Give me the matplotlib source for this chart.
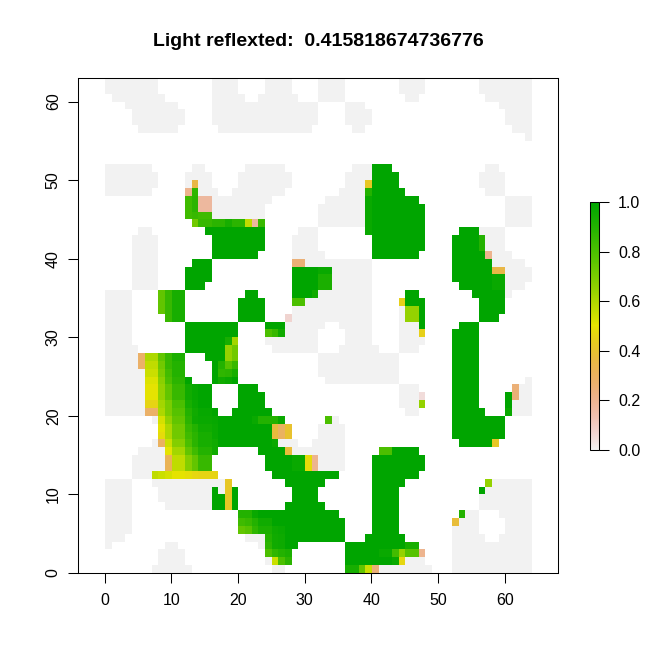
"""Raster of reflected light with an R terrain.colors style legend."""

import colorsys

import numpy as np
import matplotlib
matplotlib.use("Agg")
import matplotlib.pyplot as plt
from matplotlib.colors import ListedColormap

plt.rcParams["font.family"] = ["Liberation Sans", "DejaVu Sans"]

TITLE = "Light reflexted:  0.415818674736776"
N_ROWS = 63
N_COLS = 64
X_TICKS = [0, 10, 20, 30, 40, 50, 60]
Y_TICKS = [0, 10, 20, 30, 40, 50, 60]
BAR_TICKS = [0.0, 0.2, 0.4, 0.6, 0.8, 1.0]

# rows are counted from the top; spans are inclusive column ranges
ZERO_SPANS = {
    0: [(0, 7), (16, 19), (24, 27), (32, 35), (44, 47), (56, 63)],
    1: [(0, 7), (16, 19), (24, 27), (32, 35), (44, 47), (56, 63)],
    2: [(1, 8), (16, 20), (23, 28), (32, 35), (45, 46), (57, 63)],
    3: [(3, 10), (16, 31), (36, 38), (59, 63)],
    4: [(4, 11), (16, 31), (36, 39), (60, 63)],
    5: [(4, 11), (16, 31), (36, 39), (60, 63)],
    6: [(5, 10), (17, 30), (37, 38), (61, 63)],
    7: [(63, 63)],
    11: [(0, 6), (13, 14), (21, 26), (37, 39), (57, 58)],
    12: [(0, 7), (12, 15), (20, 27), (36, 39), (56, 59)],
    13: [(0, 7), (12, 12), (14, 15), (20, 27), (36, 38), (56, 59)],
    14: [(0, 6), (14, 16), (19, 26), (35, 38), (57, 59)],
    15: [(16, 24), (33, 38), (60, 63)],
    16: [(16, 23), (32, 38), (60, 63)],
    17: [(16, 23), (32, 38), (60, 63)],
    18: [(32, 38), (60, 63)],
    19: [(5, 6), (29, 31), (56, 59)],
    20: [(4, 7), (28, 31), (57, 59)],
    21: [(4, 7), (28, 31), (57, 59)],
    22: [(4, 7), (28, 32), (58, 60)],
    23: [(4, 7), (30, 39), (58, 62)],
    24: [(4, 7), (34, 39), (60, 63)],
    25: [(4, 7), (34, 39), (60, 63)],
    26: [(4, 7), (34, 39), (60, 62)],
    27: [(0, 3), (32, 39), (60, 60)],
    28: [(0, 3), (30, 39)],
    29: [(0, 3), (28, 39), (44, 44)],
    30: [(0, 3), (28, 39), (44, 44)],
    31: [(0, 3), (27, 32), (35, 39), (44, 46)],
    32: [(0, 3), (27, 31), (36, 39), (44, 46)],
    33: [(0, 3), (24, 31), (36, 39), (44, 47)],
    34: [(0, 4), (25, 31), (35, 40), (44, 46)],
    35: [(0, 4), (32, 43)],
    36: [(0, 4), (32, 43)],
    37: [(0, 5), (32, 43)],
    38: [(0, 5), (33, 43), (63, 63)],
    39: [(0, 5), (44, 46), (62, 63)],
    40: [(0, 5), (44, 46), (62, 63)],
    41: [(0, 5), (44, 46), (61, 63)],
    42: [(0, 5), (45, 46), (61, 63)],
    43: [(7, 7), (34, 34)],
    44: [(32, 35)],
    45: [(32, 35)],
    46: [(7, 7), (26, 28), (31, 35)],
    47: [(5, 8), (28, 35)],
    48: [(4, 8), (32, 35)],
    49: [(4, 8), (32, 35)],
    50: [(4, 6)],
    51: [(0, 3), (7, 17), (58, 63)],
    52: [(0, 3), (8, 15), (17, 17), (57, 63)],
    53: [(0, 3), (8, 15), (56, 63)],
    54: [(0, 3), (9, 15), (56, 63)],
    55: [(0, 3), (54, 55), (59, 63)],
    56: [(0, 3), (53, 55), (60, 63)],
    57: [(0, 3), (52, 55), (60, 63)],
    58: [(0, 2), (21, 23), (52, 56), (59, 63)],
    59: [(0, 0), (9, 10), (23, 23), (52, 63)],
    60: [(8, 11), (52, 63)],
    61: [(8, 11), (24, 24), (45, 47), (52, 63)],
    62: [(7, 12), (25, 26), (41, 48), (52, 63)],
}

ONE_SPANS = {
    11: [(40, 42)],
    12: [(40, 43)],
    13: [(40, 43)],
    14: [(40, 44)],
    15: [(40, 46)],
    16: [(40, 47)],
    17: [(40, 47)],
    18: [(40, 47)],
    19: [(15, 23), (40, 47), (53, 55)],
    20: [(16, 23), (40, 47), (52, 55)],
    21: [(16, 23), (40, 47), (52, 55)],
    22: [(16, 22), (40, 46), (52, 56)],
    23: [(13, 15), (52, 57)],
    24: [(12, 15), (28, 31), (52, 57)],
    25: [(12, 15), (28, 31), (52, 57)],
    26: [(12, 14), (28, 31), (53, 57)],
    27: [(21, 22), (28, 30), (45, 46), (55, 59)],
    28: [(20, 23), (45, 47), (56, 59)],
    29: [(20, 23), (47, 47), (56, 59)],
    30: [(20, 23), (47, 47), (56, 58)],
    31: [(12, 19), (24, 26), (47, 47), (53, 55)],
    32: [(12, 19), (52, 55)],
    33: [(12, 17), (52, 55)],
    34: [(12, 17), (52, 55)],
    35: [(15, 17), (52, 55)],
    36: [(16, 16), (52, 55)],
    37: [(16, 16), (52, 55)],
    38: [(12, 12), (16, 16), (19, 19), (52, 55)],
    39: [(14, 15), (20, 22), (52, 55)],
    40: [(14, 15), (20, 23), (52, 55), (60, 60)],
    41: [(14, 15), (20, 23), (52, 55), (60, 60)],
    42: [(16, 16), (19, 24), (52, 56)],
    43: [(17, 21), (52, 59)],
    44: [(17, 24), (52, 59)],
    45: [(17, 24), (52, 59)],
    46: [(17, 24), (53, 57)],
    47: [(23, 26), (43, 46)],
    48: [(24, 27), (40, 47)],
    49: [(24, 27), (40, 47)],
    50: [(25, 34), (40, 46)],
    51: [(27, 32), (40, 44)],
    52: [(16, 16), (19, 19), (28, 31), (40, 43), (56, 56)],
    53: [(16, 17), (19, 19), (28, 31), (40, 43)],
    54: [(16, 17), (19, 19), (27, 32), (40, 43)],
    55: [(23, 34), (40, 43)],
    56: [(25, 35), (40, 43)],
    57: [(27, 35), (40, 43)],
    58: [(27, 35), (39, 44)],
    59: [(27, 28), (36, 44)],
    60: [(36, 40)],
    61: [(36, 42)],
}

# cells between 0 and 1, row: {column: value}
PARTIAL = {
    13: {13: .35, 39: .42},
    14: {12: .2, 13: .87, 39: .9},
    15: {12: .83, 13: .88, 14: .17, 15: .17, 39: .97},
    16: {12: .83, 13: .88, 14: .17, 15: .17, 39: .97},
    17: {12: .83, 13: .85, 14: .83, 15: .83, 39: .97},
    18: {13: .72, 14: .85, 15: .85, 16: .88, 17: .88, 18: .93, 19: .88, 20: .88,
         21: .57, 22: .17, 23: .85, 39: .97},
    19: {39: .97},
    20: {56: .9},
    21: {56: .9},
    22: {57: .2},
    23: {28: .25, 29: .25},
    24: {32: .97, 33: .97, 58: .35, 59: .35},
    25: {32: .92, 33: .92, 58: .97, 59: .97},
    26: {32: .92, 33: .92, 58: .97, 59: .97},
    27: {8: .75, 9: .85, 10: .93, 11: .93, 31: .95},
    28: {8: .75, 9: .85, 10: .93, 11: .93, 28: .8, 29: .8, 44: .45},
    29: {8: .75, 9: .85, 10: .93, 11: .93, 45: .65, 46: .65},
    30: {9: .85, 10: .93, 11: .93, 27: .07, 45: .65, 46: .65},
    32: {24: .8, 25: .85, 26: .95, 47: .45},
    33: {18: .93, 19: .62},
    34: {18: .65, 19: .72},
    35: {5: .28, 6: .6, 7: .6, 8: .75, 9: .85, 10: .92, 11: .92, 18: .65, 19: .72},
    36: {5: .28, 6: .57, 7: .57, 8: .72, 9: .85, 10: .9, 11: .9, 17: .9, 18: .78, 19: .85},
    37: {6: .55, 7: .55, 8: .7, 9: .82, 10: .9, 11: .9, 17: .87, 18: .88, 19: .93},
    38: {6: .52, 7: .52, 8: .67, 9: .8, 10: .88, 11: .88, 17: .95, 18: .97},
    39: {6: .5, 7: .5, 8: .65, 9: .75, 10: .85, 11: .85, 12: .95, 13: .98, 61: .25},
    40: {6: .5, 7: .5, 8: .65, 9: .75, 10: .85, 11: .85, 12: .95, 13: .98, 47: .05, 61: .25},
    41: {6: .46, 7: .46, 8: .62, 9: .7, 10: .8, 11: .8, 12: .93, 13: .97, 47: .65},
    42: {6: .28, 7: .28, 8: .6, 9: .7, 10: .78, 11: .78, 12: .9, 13: .95, 14: .98, 15: .98, 60: .97},
    43: {8: .53, 9: .65, 10: .75, 11: .75, 12: .88, 13: .96, 14: .97, 15: .97, 16: .98,
         22: .97, 23: .9, 24: .9, 25: .9, 26: .97, 33: .8},
    44: {8: .5, 9: .6, 10: .72, 11: .72, 12: .85, 13: .9, 14: .95, 15: .95, 16: .97,
         25: .37, 26: .3, 27: .4},
    45: {8: .48, 9: .6, 10: .72, 11: .72, 12: .83, 13: .88, 14: .93, 15: .93, 16: .97,
         25: .37, 26: .3, 27: .4},
    46: {8: .3, 9: .55, 10: .68, 11: .68, 12: .8, 13: .88, 14: .93, 15: .93, 16: .95, 25: .97, 58: .42},
    47: {9: .5, 10: .62, 11: .62, 12: .75, 13: .83, 14: .9, 15: .9, 16: .95, 27: .38, 41: .8, 42: .8},
    48: {9: .32, 10: .57, 11: .57, 12: .68, 13: .75, 14: .85, 15: .85, 28: .97, 29: .97, 30: .48, 31: .2},
    49: {9: .32, 10: .57, 11: .57, 12: .68, 13: .75, 14: .85, 15: .85, 28: .97, 29: .97, 30: .48, 31: .2},
    50: {7: .57, 8: .55, 9: .53, 10: .5, 11: .5, 12: .49, 13: .47, 14: .46, 15: .46, 16: .46},
    51: {18: .42, 57: .65},
    52: {18: .42},
    53: {18: .42},
    54: {18: .42},
    55: {20: .9, 21: .9, 22: .97, 53: .9},
    56: {20: .83, 21: .85, 22: .9, 23: .95, 24: .95, 52: .38},
    57: {20: .75, 21: .78, 22: .87, 23: .92, 24: .92, 25: .96, 26: .97},
    58: {24: .9, 25: .95, 26: .96},
    59: {24: .88, 25: .95, 26: .96, 45: .93, 46: .93},
    60: {24: .8, 25: .87, 26: .9, 27: .92, 41: .97, 42: .97, 43: .82, 44: .65, 45: .78, 46: .78, 47: .2},
    61: {25: .55, 26: .8, 27: .88, 43: .97, 44: .47},
    62: {36: .93, 37: .93, 38: .75, 39: .55, 40: .25},
}


def terrain_cmap(n=255):
    # same ramp as rev(terrain.colors(n)) in R
    k = n // 2
    cols = []
    for t in np.linspace(0, 1, k):
        cols.append(colorsys.hsv_to_rgb((4 - 2 * t) / 12, 1.0, 0.65 + 0.25 * t))
    for t in np.linspace(0, 1, n - k + 1)[1:]:
        cols.append(colorsys.hsv_to_rgb((2 - 2 * t) / 12, 1.0 - t, 0.9 + 0.05 * t))
    return ListedColormap(cols[::-1])


grid = np.full((N_ROWS, N_COLS), np.nan)
for spans, val in ((ZERO_SPANS, 0.0), (ONE_SPANS, 1.0)):
    for row, pairs in spans.items():
        for a, b in pairs:
            grid[row, a:b + 1] = val
for row, cells in PARTIAL.items():
    for col, val in cells.items():
        grid[row, col] = val

W, H = 672, 671
fig = plt.figure(figsize=(W / 100, H / 100), dpi=100)
ax = fig.add_axes([78 / W, 1 - 573 / H, 480 / W, 495 / H])
im = ax.imshow(grid, extent=(0, N_COLS, 0, N_ROWS), origin="upper", cmap=terrain_cmap(),
               vmin=0, vmax=1, aspect="auto", interpolation="nearest")
ax.set_xlim(-4, 68)
ax.set_ylim(0, N_ROWS)
ax.set_xticks(X_TICKS)
ax.set_yticks(Y_TICKS)
ax.tick_params(axis="x", length=6.9, width=0.75, labelsize=11.5, pad=7.5)
ax.tick_params(axis="y", length=6.9, width=0.75, labelsize=11.5, pad=5.5)
for lab in ax.get_yticklabels():
    lab.set_rotation(90)
    lab.set_va("center")
for sp in ax.spines.values():
    sp.set_linewidth(0.75)
fig.text(318.5 / W, 1 - 41 / H, TITLE, ha="center", va="center", fontsize=14, fontweight="bold")

cax = fig.add_axes([589.5 / W, 1 - 449.5 / H, 9 / W, 247 / H])
cb = fig.colorbar(im, cax=cax, ticks=BAR_TICKS)
cb.ax.set_yticklabels([f"{t:.1f}" for t in BAR_TICKS])
cb.ax.tick_params(length=7.5, width=0.75, labelsize=11.5, pad=6.5)
cb.outline.set_linewidth(0.75)

fig.savefig("out.png", dpi=100)
plt.close(fig)
